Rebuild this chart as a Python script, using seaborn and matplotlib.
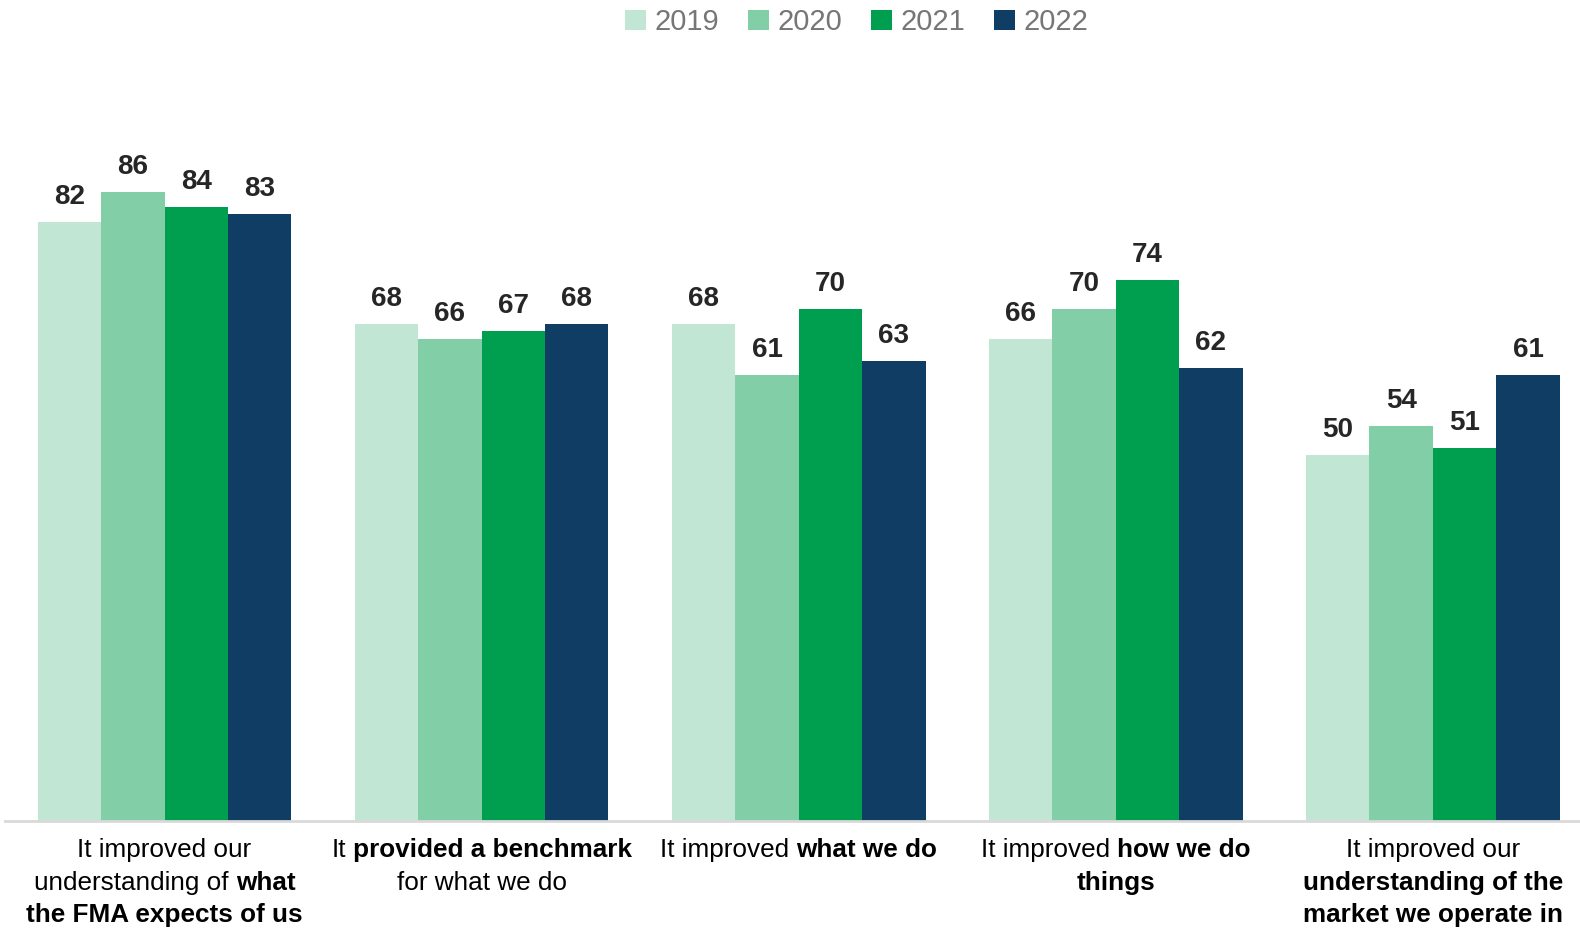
import matplotlib
matplotlib.use("Agg")
import matplotlib.pyplot as plt
import seaborn as sns
import pandas as pd

# --- data -------------------------------------------------------------
years = ["2019", "2020", "2021", "2022"]
categories = ["what_fma", "benchmark", "what_we_do", "how_we_do", "market"]
v2019 = [82, 68, 68, 66, 50]
v2020 = [86, 66, 61, 70, 54]
v2021 = [84, 67, 70, 74, 51]
v2022 = [83, 68, 63, 62, 61]

# category labels: lines of (text, bold) segments
cat_labels = [
    [[("It improved our", False)],
     [("understanding of", False), ("what", True)],
     [("the FMA expects of us", True)]],
    [[("It", False), ("provided a benchmark", True)],
     [("for what we do", False)]],
    [[("It improved", False), ("what we do", True)]],
    [[("It improved", False), ("how we do", True)],
     [("things", True)]],
    [[("It improved our", False)],
     [("understanding of the", True)],
     [("market we operate in", True)]],
]

colors = ["#C1E7D4", "#82CEA6", "#009E4F", "#0F3D64"]

# --- styling ------------------------------------------------------------
sns.set_theme(style="white")
plt.rcParams["font.family"] = ["Liberation Sans", "DejaVu Sans"]

rows = []
for yr, vals in zip(years, [v2019, v2020, v2021, v2022]):
    for c, v in zip(categories, vals):
        rows.append({"category": c, "year": yr, "value": v})
df = pd.DataFrame(rows)

fig = plt.figure(figsize=(15.8, 9.3), dpi=100)
ax = fig.add_axes([0.003, 0.1175, 0.997, 0.7855])

sns.barplot(data=df, x="category", y="value", hue="year", order=categories,
            hue_order=years, palette=colors, width=0.8, saturation=1,
            edgecolor="none", linewidth=0, ax=ax)

ax.set_ylim(0, 100)
ax.set_xlim(-0.504, 4.464)
ax.set_xlabel("")
ax.set_ylabel("")
ax.set_yticks([])
ax.set_xticks([])
for side in ["top", "right", "left"]:
    ax.spines[side].set_visible(False)
ax.spines["bottom"].set_color("#D9D9D9")
ax.spines["bottom"].set_linewidth(2)

# value labels
for cont in ax.containers:
    for bar in cont:
        h = bar.get_height()
        ax.annotate(f"{h:.0f}", xy=(bar.get_x() + bar.get_width() / 2, h),
                    xytext=(0, 12), textcoords="offset pixels",
                    ha="center", va="bottom", fontsize=20,
                    fontweight="bold", color="#262626")

# legend
handles, labels = ax.get_legend_handles_labels()
ax.legend(handles, labels, loc="upper center", bbox_to_anchor=(0.541, 1.148),
          ncol=4, frameon=False, fontsize=21, handlelength=0.7,
          handleheight=0.7, handletextpad=0.3, columnspacing=1.0,
          labelcolor="#767676")

# category labels with mixed weights
renderer = fig.canvas.get_renderer()
fs = 18.8


def text_width(s, bold):
    t = fig.text(0, 0, s, fontsize=fs, fontweight="bold" if bold else "normal")
    w = t.get_window_extent(renderer).width
    t.remove()
    return w


space_w = text_width("a a", False) - text_width("aa", False)
line_step = 32.4
first_line = -29.5  # pixels below the baseline

for i, lines in enumerate(cat_labels):
    for li, segs in enumerate(lines):
        widths = [text_width(s, b) for s, b in segs]
        total = sum(widths) + space_w * (len(segs) - 1)
        x0 = -total / 2
        y = first_line - li * line_step
        for (s, b), w in zip(segs, widths):
            ax.annotate(s, xy=(i, 0), xycoords=("data", "axes fraction"),
                        xytext=(x0, y), textcoords="offset pixels",
                        ha="left", va="center", fontsize=fs,
                        fontweight="bold" if b else "normal",
                        color="#000000", annotation_clip=False)
            x0 += w + space_w

fig.savefig("out.png", dpi=100)
